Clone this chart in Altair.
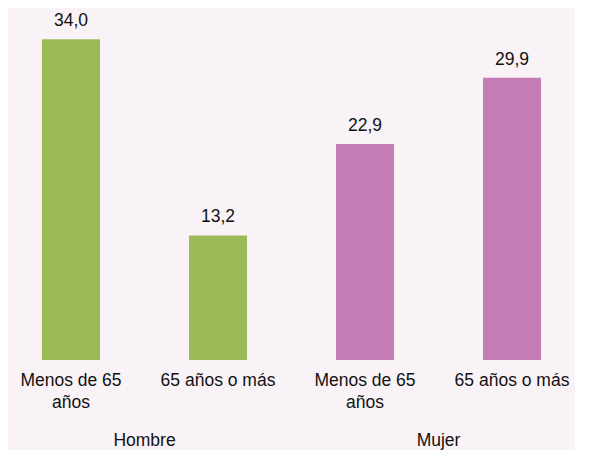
import altair as alt
import pandas as pd

grupos = ["Hombre", "Hombre", "Mujer", "Mujer"]
edades = ["Menos de 65|años", "65 años o más", "Menos de 65|años", "65 años o más"]
valores = [34.0, 13.2, 22.9, 29.9]
colores = {"Hombre": "#9bbb59", "Mujer": "#c47cb4"}

df = pd.DataFrame({"grupo": grupos, "edad": edades, "valor": valores})

FONT = "Liberation Sans, Arial, sans-serif"

base = alt.Chart(df).encode(
    x=alt.X("edad:N", sort=None, title=None,
            scale=alt.Scale(paddingInner=0.605, paddingOuter=0.231),
            axis=alt.Axis(labelExpr="split(datum.label, '|')", labelAngle=0,
                          domain=False, ticks=False, labelFontSize=17.5,
                          labelFont=FONT, labelColor="#111111",
                          labelPadding=11, labelLineHeight=22,
                          labelBaseline="top")),
    y=alt.Y("valor:Q", scale=alt.Scale(domain=[0, 37.3]), axis=None),
)

bars = base.mark_bar().encode(
    color=alt.Color("grupo:N",
                    scale=alt.Scale(domain=list(colores.keys()), range=list(colores.values())),
                    legend=None)
)
labels = base.transform_calculate(
    txt="replace(format(datum.valor, '.1f'), '.', ',')"
).mark_text(dy=-9, baseline="bottom", fontSize=17.5, font=FONT,
            color="#111111").encode(text="txt:N")

chart = alt.layer(bars, labels).properties(width=273, height=352).facet(
    column=alt.Column("grupo:N", sort=["Hombre", "Mujer"], title=None,
                      header=alt.Header(labelOrient="bottom", labelFontSize=17.5,
                                        labelFont=FONT, labelColor="#111111",
                                        labelPadding=21))
).resolve_scale(x="independent").configure(
    background="#f9f3f7", padding=0
).configure_view(stroke=None).configure_facet(spacing=21)

chart.save("out.html", embed_options={"renderer": "svg", "actions": False})
